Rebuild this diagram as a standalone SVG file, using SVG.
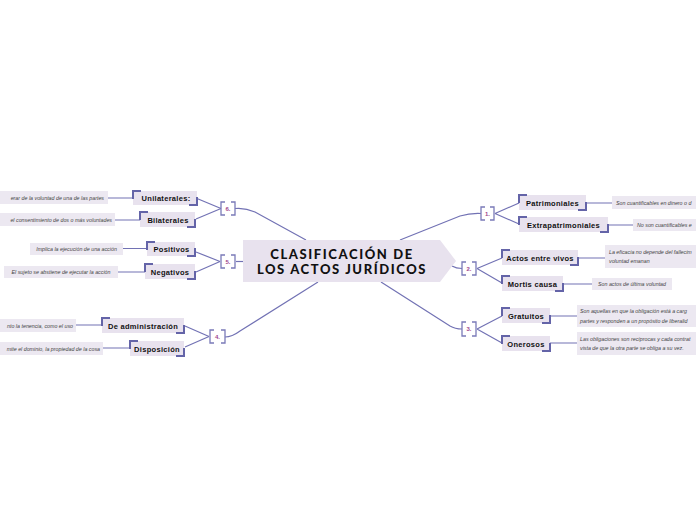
<svg xmlns="http://www.w3.org/2000/svg" width="696" height="520" viewBox="0 0 696 520">
<style>
.bg{fill:#ffffff}
.main{fill:#e8e2ee}
.box{fill:#e8e2ee}
.dbox{fill:#ece8f1}
.cn{fill:none;stroke:#7272b4;stroke-width:1.2}
.br{fill:none;stroke:#7a7ab8;stroke-width:1.3}
.crn{fill:none;stroke:#6464a8;stroke-width:2}
.title{font-family:"Lato","Liberation Sans",sans-serif;font-weight:900;font-size:13px;fill:#111;text-anchor:middle;letter-spacing:1.6px}
.lbl{font-family:"Liberation Sans",Arial,sans-serif;font-weight:bold;font-size:7.5px;fill:#111;text-anchor:middle;letter-spacing:0.3px}
.num{font-family:"Liberation Sans",Arial,sans-serif;font-weight:bold;font-size:6px;fill:#a0458c;text-anchor:middle}
.d{font-family:"Liberation Sans",Arial,sans-serif;font-style:italic;font-size:5.3px;fill:#444}
</style>
<rect class="bg" x="0" y="0" width="696" height="520"/>

<g id="connectors">
<path class="cn" d="M235,208.5 Q245,207.5 255,212 L306,240"/>
<path class="cn" d="M236,261.5 H243"/>
<path class="cn" d="M225,337 Q232,337 240,331 L318,282"/>
<path class="cn" d="M481,213.5 Q470,213 460,216 L400,240"/>
<path class="cn" d="M452,266 Q456,268.5 462,268.5"/>
<path class="cn" d="M381,282 L450,326 Q455,329 462,329"/>
<path class="cn" d="M221,208.5 L197,198.5 M221,208.5 L196,219"/>
<path class="cn" d="M220,261.5 L196,252 M220,261.5 L196,272"/>
<path class="cn" d="M209,336.5 L185,326 M209,336.5 L185,347"/>
<path class="cn" d="M495,213.5 L519,203 M495,213.5 L519,224"/>
<path class="cn" d="M477,268.5 L502,258 M477,268.5 L502,283"/>
<path class="cn" d="M477,329 L502,316 M477,329 L502,343"/>
<path class="cn" d="M108,198 H133 M115,220 H140 M123,248.5 H147 M118,272 H145 M76,325 H102 M103,348 H130"/>
<path class="cn" d="M586,203 H612 M608,225 H633 M578,258 H605 M563,284 H592 M550,316 H577 M550,343 H577"/>
</g>

<g id="central">
<path class="main" d="M243,240 H440 L456,261 L440,282 H243 Z"/>
<text class="title" x="342" y="259">CLASIFICACIÓN DE</text>
<text class="title" x="342" y="273.5">LOS ACTOS JURÍDICOS</text>
</g>

<g id="b6"><path class="br" d="M225,202 H221 V215 H225 M231,202 H235 V215 H231"/><text class="num" x="228" y="211">6.</text></g>
<g id="b5"><path class="br" d="M225,255 H221 V268 H225 M231,255 H235 V268 H231"/><text class="num" x="228" y="264">5.</text></g>
<g id="b4"><path class="br" d="M214,330 H210 V343 H214 M221,330 H225 V343 H221"/><text class="num" x="217.5" y="339">4.</text></g>
<g id="b1"><path class="br" d="M485,207 H481 V220 H485 M490,207 H494 V220 H490"/><text class="num" x="487.5" y="216">1.</text></g>
<g id="b2"><path class="br" d="M466,262 H462 V275 H466 M472,262 H476 V275 H472"/><text class="num" x="469" y="271">2.</text></g>
<g id="b3"><path class="br" d="M466,322 H462 V336 H466 M472,322 H476 V336 H472"/><text class="num" x="469" y="331">3.</text></g>

<g id="unilaterales"><rect class="box" x="133" y="191" width="64" height="14"/><path class="crn" d="M133,199 V191 H141 M197,197 V205 H189"/><text class="lbl" x="166" y="201">Unilaterales:</text></g>
<g id="bilaterales"><rect class="box" x="140" y="212" width="55" height="15"/><path class="crn" d="M140,220 V212 H148 M195,219 V227 H187"/><text class="lbl" x="168" y="222.5">Bilaterales</text></g>
<g id="positivos"><rect class="box" x="147" y="242" width="48" height="14"/><path class="crn" d="M147,250 V242 H155 M195,248 V256 H187"/><text class="lbl" x="171.5" y="251.5">Positivos</text></g>
<g id="negativos"><rect class="box" x="145" y="264" width="50" height="15"/><path class="crn" d="M145,272 V264 H153 M195,271 V279 H187"/><text class="lbl" x="170" y="274.5">Negativos</text></g>
<g id="administracion"><rect class="box" x="102" y="318" width="82" height="15"/><path class="crn" d="M102,326 V318 H110 M184,325 V333 H176"/><text class="lbl" x="143" y="328.5">De administración</text></g>
<g id="disposicion"><rect class="box" x="130" y="341" width="54" height="15"/><path class="crn" d="M130,349 V341 H138 M184,348 V356 H176"/><text class="lbl" x="157" y="351.5">Disposición</text></g>

<g id="patrimoniales"><rect class="box" x="519" y="195" width="67" height="15"/><path class="crn" d="M519,203 V195 H527 M586,202 V210 H578"/><text class="lbl" x="552.5" y="205.5">Patrimoniales</text></g>
<g id="extrapatrimoniales"><rect class="box" x="519" y="217" width="89" height="15"/><path class="crn" d="M519,225 V217 H527 M608,224 V232 H600"/><text class="lbl" x="563.5" y="227.5">Extrapatrimoniales</text></g>
<g id="entrevivos"><rect class="box" x="502" y="250" width="76" height="15"/><path class="crn" d="M502,258 V250 H510 M578,257 V265 H570"/><text class="lbl" x="540" y="260.5">Actos entre vivos</text></g>
<g id="mortiscausa"><rect class="box" x="502" y="276" width="61" height="15"/><path class="crn" d="M502,284 V276 H510 M563,283 V291 H555"/><text class="lbl" x="532.5" y="286.5">Mortis causa</text></g>
<g id="gratuitos"><rect class="box" x="502" y="308" width="48" height="15"/><path class="crn" d="M502,316 V308 H510 M550,315 V323 H542"/><text class="lbl" x="526" y="318.5">Gratuitos</text></g>
<g id="onerosos"><rect class="box" x="502" y="336" width="48" height="15"/><path class="crn" d="M502,344 V336 H510 M550,343 V351 H542"/><text class="lbl" x="526" y="346.5">Onerosos</text></g>

<g id="d-uni"><rect class="dbox" x="-5" y="191" width="113" height="13"/><text class="d" x="104" y="199.5" text-anchor="end">erar de la voluntad de una de las partes</text></g>
<g id="d-bil"><rect class="dbox" x="-5" y="213" width="120" height="13"/><text class="d" x="112" y="221.5" text-anchor="end">el consentimiento de dos o más voluntades</text></g>
<g id="d-pos"><rect class="dbox" x="30" y="243" width="93" height="12"/><text class="d" x="76.5" y="251" text-anchor="middle">Implica la ejecución de una acción</text></g>
<g id="d-neg"><rect class="dbox" x="4" y="266" width="114" height="12"/><text class="d" x="61" y="274" text-anchor="middle">El sujeto se abstiene de ejecutar la acción</text></g>
<g id="d-adm"><rect class="dbox" x="-5" y="319" width="81" height="13"/><text class="d" x="73" y="327.5" text-anchor="end">nto la tenencia, como el uso</text></g>
<g id="d-disp"><rect class="dbox" x="-5" y="342" width="108" height="13"/><text class="d" x="100" y="350.5" text-anchor="end">mite el dominio, la propiedad de la cosa</text></g>

<g id="d-patr"><rect class="dbox" x="612" y="196" width="90" height="13"/><text class="d" x="616" y="204.5">Son cuantificables en dinero o d</text></g>
<g id="d-extra"><rect class="dbox" x="633" y="219" width="70" height="12"/><text class="d" x="637" y="227">No son cuantificables e</text></g>
<g id="d-vivos"><rect class="dbox" x="605" y="245" width="97" height="23"/><text class="d" x="609" y="253.5">La eficacia no depende del fallecim</text><text class="d" x="609" y="263">voluntad emanan</text></g>
<g id="d-mortis"><rect class="dbox" x="592" y="278" width="80" height="12"/><text class="d" x="632" y="286" text-anchor="middle">Son actos de última voluntad</text></g>
<g id="d-grat"><rect class="dbox" x="577" y="305" width="125" height="22"/><text class="d" x="580" y="313">Son aquellas en que la obligación está a carg</text><text class="d" x="580" y="322.5">partes y responden a un propósito de liberalid</text></g>
<g id="d-oner"><rect class="dbox" x="577" y="332" width="125" height="23"/><text class="d" x="580" y="340.5">Las obligaciones son recíprocas y cada contrat</text><text class="d" x="580" y="350">vista de que la otra parte se obliga a su vez.</text></g>
</svg>
